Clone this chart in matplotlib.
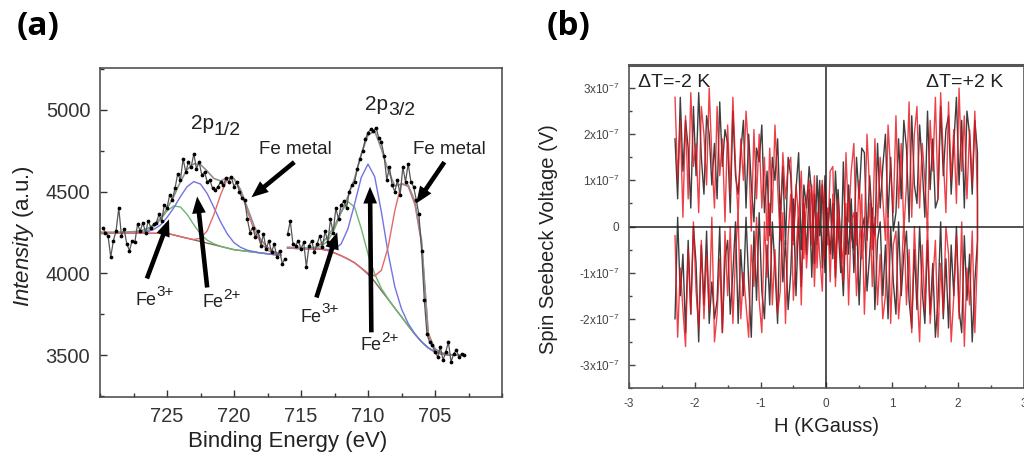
import numpy as np
import matplotlib
matplotlib.use("Agg")
import matplotlib.pyplot as plt
from matplotlib.ticker import MultipleLocator

plt.rcParams['font.family'] = ['Liberation Sans', 'DejaVu Sans']
plt.rcParams['mathtext.fontset'] = 'custom'
plt.rcParams['mathtext.rm'] = 'Liberation Sans'
plt.rcParams['mathtext.it'] = 'Liberation Sans:italic'
plt.rcParams['mathtext.bf'] = 'Liberation Sans:bold'
plt.rcParams['axes.unicode_minus'] = False

# ---------------- (a) Fe 2p XPS spectrum ----------------
# measured counts, 0.2 eV steps; two acquisition windows
be_step = 0.2
be_start_left = 729.8
counts_left = [4280, 4250, 4230, 4100, 4200, 4260, 4400, 4230, 4270, 4180,
               4140, 4200, 4190, 4300, 4260, 4310, 4250, 4320, 4280, 4300,
               4310, 4360, 4320, 4420, 4400, 4480, 4450, 4520, 4610, 4570,
               4700, 4620, 4680, 4650, 4730, 4640, 4680, 4600, 4620, 4560,
               4570, 4520, 4510, 4530, 4560, 4540, 4580, 4560, 4590, 4530,
               4560, 4500, 4460, 4450, 4330, 4250, 4280, 4220, 4260, 4170,
               4240, 4150, 4200, 4130, 4180, 4100, 4140, 4060, 4090]
be_start_right = 716.0
counts_right = [4240, 4320, 4180, 4170, 4200, 4150, 4190, 4040, 4170, 4200,
                4130, 4180, 4230, 4160, 4260, 4190, 4330, 4250, 4400, 4330,
                4420, 4440, 4400, 4500, 4540, 4560, 4640, 4700, 4750, 4820,
                4860, 4880, 4870, 4890, 4830, 4800, 4720, 4570, 4650, 4540,
                4500, 4570, 4480, 4650, 4560, 4670, 4560, 4530, 4450, 4360,
                4140, 3840, 3630, 3580, 3560, 3520, 3490, 3550, 3470, 3520,
                3580, 3460, 3510, 3530, 3490, 3510, 3500]

# fitted curves, 0.5 eV steps (2p1/2 window: 730 -> 716.5, 2p3/2 window: 716 -> 703)
fit_step = 0.5
fit_start_left = 730.0
bg_left = [4245, 4245, 4245, 4245, 4245, 4245, 4245, 4245, 4245, 4245,
           4245, 4235, 4225, 4215, 4205, 4195, 4185, 4175, 4165, 4155,
           4145, 4140, 4135, 4130, 4125, 4120, 4115, 4110]
fe3_left = [4245, 4245, 4245, 4245, 4245, 4245, 4249, 4259, 4284, 4327,
            4381, 4412, 4406, 4361, 4298, 4241, 4203, 4181, 4166, 4155,
            4145, 4140, 4135, 4130, 4125, 4120, 4115, 4110]
fe2_left = [4245, 4245, 4245, 4245, 4245, 4245, 4248, 4254, 4268, 4295,
            4342, 4400, 4469, 4530, 4561, 4546, 4488, 4403, 4315, 4241,
            4188, 4159, 4142, 4133, 4125, 4120, 4115, 4110]
fe0_left = [4245, 4245, 4245, 4245, 4245, 4245, 4245, 4245, 4245, 4245,
            4245, 4235, 4225, 4215, 4207, 4215, 4260, 4360, 4480, 4579,
            4578, 4500, 4379, 4265, 4185, 4142, 4122, 4112]
env_left = [4252, 4252, 4252, 4252, 4253, 4255, 4260, 4272, 4295, 4335,
            4395, 4470, 4560, 4635, 4670, 4665, 4625, 4580, 4565, 4585,
            4580, 4510, 4400, 4290, 4205, 4160, 4132, 4118]

fit_start_right = 716.0
bg_right = [4155, 4153, 4152, 4151, 4150, 4148, 4140, 4125, 4108, 4088,
            4065, 4032, 3995, 3950, 3895, 3842, 3788, 3735, 3680, 3628,
            3582, 3545, 3520, 3507, 3502, 3500, 3500]
fe3_right = [4155, 4153, 4152, 4151, 4154, 4165, 4198, 4271, 4373, 4439,
             4405, 4273, 4119, 3997, 3908, 3845, 3788, 3735, 3680, 3628,
             3582, 3545, 3520, 3507, 3502, 3500, 3500]
fe2_right = [4155, 4153, 4152, 4151, 4150, 4149, 4146, 4148, 4181, 4272,
             4425, 4587, 4668, 4591, 4375, 4125, 3919, 3783, 3694, 3631,
             3582, 3545, 3520, 3507, 3502, 3500, 3500]
fe0_right = [4155, 4153, 4152, 4151, 4150, 4148, 4140, 4125, 4108, 4088,
             4065, 4033, 4002, 3985, 4019, 4160, 4383, 4550, 4530, 4420,
             4180, 3640, 3530, 3510, 3502, 3500, 3500]
env_right = [4160, 4158, 4156, 4155, 4158, 4180, 4225, 4290, 4375, 4470,
             4580, 4730, 4845, 4870, 4760, 4630, 4535, 4545, 4540, 4440,
             4200, 3620, 3540, 3515, 3505, 3502, 3500]

# ---------------- (b) spin Seebeck voltage sweeps ----------------
h_start, h_stop = -2.3, 2.3
volt_unit = 1e-9
black_down = [190, 60, 280, 120, 230, 170, 40, 260, 110, 290, 150, 70,
              240, 200, 90, 180, 60, 270, 130, 210, 180, 30, 250, 110,
              70, 160, 230, 40, 200, 90, 10, 170, 140, 220, 30, 120,
              -20, 150, 100, 190, 20, 130, -40, 150, 110, -30, 80, 160,
              -50, 90, 40, 130, 70, -80, 110, -20, 90, -100, 30, -60,
              50, -110, 80, -40, -150, 20, -60, 60, -100, 30, -170, -10,
              20, -140, -60, 40, -180, -30, 10, -150, -40, -200, 0, -120,
              -190, 10, -150, -60, -10, -160, -220, -50, -180, 0, -140, -210,
              -30, -190, -80, -240, -160, 10, -200, -70, -220, -40, -150, 0,
              -180, -230, -20, -160, -60, -250, -120, -30]
black_up = [-200, 20, -150, -60, -230, -30, -190, 0, -80, -250, -40, -170,
            -10, -210, -120, -200, -160, 0, -230, -70, -30, -190, -100, 10,
            -210, -50, -150, 20, -120, -240, -10, -160, 30, -140, -200, -40,
            -170, 10, -90, -210, 40, -120, -30, -180, -100, 60, -150, 20,
            -130, 50, -60, 80, -110, 70, -40, 100, -90, 110, -20, 60,
            -70, 120, 0, -100, 140, -60, 90, -20, -50, 150, 60, 170,
            160, -30, 110, 10, -20, 180, 40, 130, 200, 20, 150, -10,
            30, 190, 60, 230, 170, 10, 240, 90, 50, 220, 130, 20,
            250, 80, 190, 40, 60, 260, 110, 210, 240, 70, 180, 280,
            90, 230, 40, 250, 200, 70, 230, 160]
red_down = [280, 100, 230, 20, 240, 60, 290, 130, 180, 30, 260, 200,
            90, 300, 150, 40, 260, 110, 190, 10, 220, 70, 280, 130,
            20, 190, 100, 250, 160, -10, 210, 60, 200, 40, 150, -30,
            170, 30, 220, 90, -30, 160, 60, 130, 150, -40, 90, 20,
            120, -70, 60, 100, -40, 110, -90, 50, 100, -70, 40, -120,
            70, -130, 20, -60, -120, 50, -170, 10, 30, -150, -40, 70,
            -190, -20, 50, -130, 20, -170, -60, -200, -150, 30, -210, -40,
            -10, -200, -120, 20, -170, -50, -230, 0, -130, -250, -40, -180,
            10, -210, -120, -30, -240, -80, -190, 0, -60, -250, -150, -20,
            -200, 10, -260, -90, -170, -10, -230, -60]
red_up = [-20, -240, -90, -180, -260, -50, -190, 10, -140, -220, -30, -200,
          -60, -180, 20, -250, -190, -70, -230, -10, -150, 0, -210, -60,
          30, -200, -100, -170, -240, -40, -130, 20, -160, -230, 10, -110,
          50, -170, -50, -190, -140, 30, -210, -20, 70, -160, -60, 40,
          -170, 60, -90, 10, 90, -130, 30, -60, -140, 80, -40, 120,
          130, -90, 60, -30, -80, 160, 10, 120, 180, -40, 100, -70,
          -10, 200, 80, -50, 190, 0, 150, 60, -30, 220, 120, 30,
          240, 40, 180, -10, 90, 270, 20, 200, 260, 40, 180, 100,
          -10, 230, 120, 280, 60, 290, 150, 30, 270, 100, 210, 50,
          300, 120, 240, 60, 210, 90, 250, 60]
v_ticks = [-3e-7, -2e-7, -1e-7, 0, 1e-7, 2e-7, 3e-7]
v_tick_labels = ['-3x10$^{-7}$', '-2x10$^{-7}$', '-1x10$^{-7}$', '0',
                 '1x10$^{-7}$', '2x10$^{-7}$', '3x10$^{-7}$']

W, H = 1024, 462
fig = plt.figure(figsize=(W / 100, H / 100), dpi=100)


def frac_box(x0, y0, x1, y1):
    return [x0 / W, 1 - y1 / H, (x1 - x0) / W, (y1 - y0) / H]


def split_label(ax, xy, main, small, size, small_size, rise, shift):
    """Main text with a large raised/lowered suffix, centred on xy."""
    ax.annotate(main, xy=xy, xytext=(shift, 0), textcoords='offset points',
                ha='right', va='baseline', fontsize=size, color='#222222')
    ax.annotate(small, xy=xy, xytext=(shift, rise), textcoords='offset points',
                ha='left', va='baseline', fontsize=small_size, color='#222222')


# ---- panel (a) ----
axa = fig.add_axes(frac_box(100, 68, 502, 397))
col_bg, col_g, col_b, col_r, col_env = '#80695f', '#6fb46f', '#7373e2', '#e26a6a', '#8f8f8f'
for start, n_bg, n3, n2, n0, nenv in [
        (fit_start_left, bg_left, fe3_left, fe2_left, fe0_left, env_left),
        (fit_start_right, bg_right, fe3_right, fe2_right, fe0_right, env_right)]:
    e = start - fit_step * np.arange(len(n_bg))
    axa.plot(e, n_bg, color=col_bg, lw=1.0)
    axa.plot(e, n3, color=col_g, lw=1.0)
    axa.plot(e, n2, color=col_b, lw=1.0)
    axa.plot(e, n0, color=col_r, lw=1.0)
    axa.plot(e, nenv, color=col_env, lw=1.2)

for start, cts in [(be_start_left, counts_left), (be_start_right, counts_right)]:
    e = start - be_step * np.arange(len(cts))
    axa.plot(e, cts, color='#555555', lw=0.9, marker='o', ms=1.7,
             mfc='k', mec='k', zorder=5)

axa.set_xlim(730, 700)
axa.set_ylim(3245, 5255)
axa.xaxis.set_minor_locator(MultipleLocator(2.5))
axa.yaxis.set_major_locator(MultipleLocator(500))
axa.yaxis.set_minor_locator(MultipleLocator(250))
axa.set_xticks([725, 720, 715, 710, 705])
axa.tick_params(which='both', direction='in', top=False, right=False,
                labelsize=14.5, colors='#333333', pad=7)
axa.tick_params(which='major', length=5, width=1)
axa.tick_params(which='minor', length=3, width=1)
for sp in axa.spines.values():
    sp.set_color('#444444')
    sp.set_linewidth(1.1)

# peak labels: baselines
split_label(axa, (721.4, 4880), '2p', '1/2', 15, 14, -4, -1)
split_label(axa, (708.4, 5000), '2p', '3/2', 15, 14, -4, -1)
axa.text(715.4, 4760, 'Fe metal', fontsize=13.5, ha='center', va='center', color='#222222')
axa.text(703.9, 4760, 'Fe metal', fontsize=13.5, ha='center', va='center', color='#222222')
split_label(axa, (726.0, 3810), 'Fe', '3+', 13, 11, 6, 2)
split_label(axa, (721.0, 3795), 'Fe', '2+', 13, 11, 6, 2)
split_label(axa, (713.7, 3705), 'Fe', '3+', 13, 11, 6, 2)
split_label(axa, (709.2, 3530), 'Fe', '2+', 13, 11, 6, 2)

arrow_kw = dict(arrowstyle='simple,head_length=1.1,head_width=0.9,tail_width=0.3',
                mutation_scale=11, fc='k', ec='k', lw=0, shrinkA=0, shrinkB=0)
for tail, head in [((715.5, 4680), (718.7, 4465)),
                   ((704.3, 4680), (706.4, 4428)),
                   ((726.5, 3969), (724.85, 4330)),
                   ((722.0, 3914), (722.75, 4470)),
                   ((713.85, 3853), (712.3, 4251)),
                   ((709.75, 3640), (709.85, 4530))]:
    axa.annotate('', xy=head, xytext=tail, arrowprops=arrow_kw, zorder=6)

fig.text(288 / W, 1 - 442 / H, 'Binding Energy (eV)', fontsize=16,
         ha='center', va='center', color='#222222')
fig.text(23 / W, 1 - 236 / H, r'$\mathit{Intensity}$ (a.u.)', fontsize=16,
         ha='center', va='center', rotation=90, color='#222222')
fig.text(17 / W, 1 - 26 / H, '(a)', fontsize=24, fontweight='bold',
         family='Open Sans', ha='left', va='center')

# ---- panel (b) ----
axb = fig.add_axes(frac_box(629, 65, 1023.5, 388))
h = np.linspace(h_start, h_stop, len(black_down))
loop_h = np.concatenate([h, h[::-1]])
black_loop = np.concatenate([black_down, black_up[::-1]]) * volt_unit
red_loop = np.concatenate([red_down, red_up[::-1]]) * volt_unit
axb.plot(loop_h, black_loop, color='#1c1c1c', lw=1.0, alpha=0.85)
axb.plot(loop_h, red_loop, color='#e8121c', lw=1.0, alpha=0.8)
axb.axhline(0, color='#222222', lw=1.1)
axb.axvline(0, color='#222222', lw=1.1)

axb.set_xlim(-3, 3)
axb.set_ylim(-3.5e-7, 3.5e-7)
axb.set_yticks(v_ticks)
axb.set_yticklabels(v_tick_labels)
axb.yaxis.set_minor_locator(MultipleLocator(0.5e-7))
axb.set_xticks([-3, -2, -1, 0, 1, 2, 3])
axb.set_xticklabels(['-3', '-2', '-1', '0', '1', '2', '3'])
axb.xaxis.set_minor_locator(MultipleLocator(0.5))
axb.tick_params(which='both', direction='in', top=False, right=False,
                labelsize=8.5, colors='#444444', pad=7)
axb.tick_params(which='major', length=4, width=1)
axb.tick_params(which='minor', length=2.5, width=1)
for name, sp in axb.spines.items():
    sp.set_color('#555555')
    sp.set_linewidth(2.2 if name == 'top' else 1.2)

axb.text(0.023, 0.947, '\u0394T=-2 K', transform=axb.transAxes, fontsize=14,
         ha='left', va='center', color='#222222')
axb.text(0.949, 0.947, '\u0394T=+2 K', transform=axb.transAxes, fontsize=14,
         ha='right', va='center', color='#222222')

fig.text(826.5 / W, 1 - 426 / H, 'H (KGauss)', fontsize=14.5,
         ha='center', va='center', color='#222222')
fig.text(549 / W, 1 - 239 / H, 'Spin Seebeck Voltage (V)', fontsize=14.5,
         ha='center', va='center', rotation=90, color='#222222')
fig.text(547 / W, 1 - 26 / H, '(b)', fontsize=24, fontweight='bold',
         family='Open Sans', ha='left', va='center')

fig.savefig('out.png', dpi=100, facecolor='white')
